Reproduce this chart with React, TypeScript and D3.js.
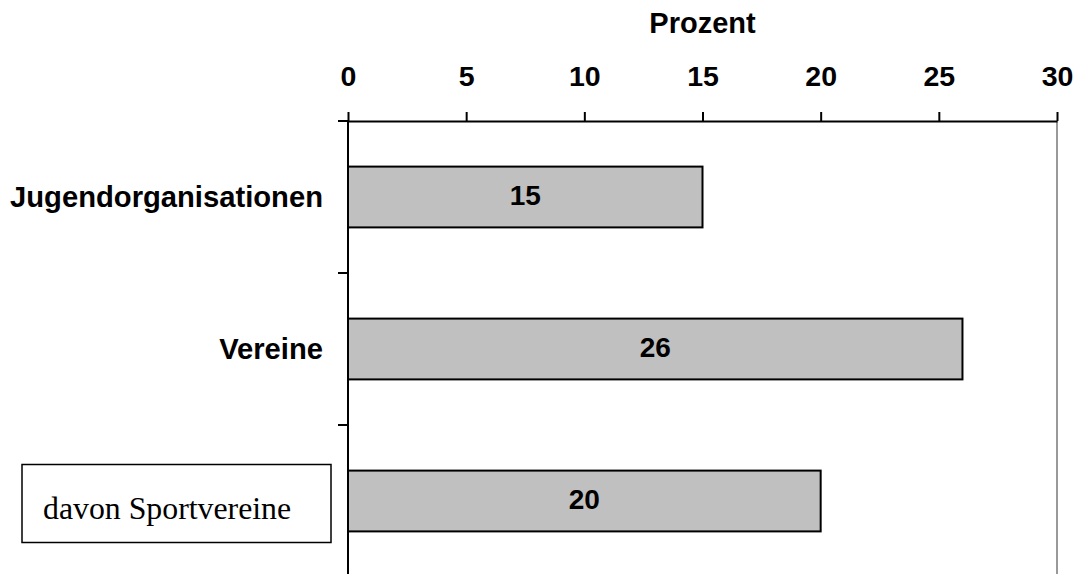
import React, { useRef, useEffect } from "react";
import * as d3 from "d3";

// chart data
const categories = ["Jugendorganisationen", "Vereine", "davon Sportvereine"];
const values = [15, 26, 20];
const xTicks = [0, 5, 10, 15, 20, 25, 30];
const axisTitle = "Prozent";

const App: React.FC = () => {
  const svgRef = useRef<SVGSVGElement>(null);

  useEffect(() => {
    const width = 1078;
    const height = 574;
    const left = 348;
    const right = 1057;
    const top = 121;
    const bottom = 577;
    const sans = "'Liberation Sans', Arial, sans-serif";

    const svg = d3
      .select(svgRef.current)
      .attr("width", width)
      .attr("height", height)
      .style("position", "absolute")
      .style("left", "0px")
      .style("top", "0px")
      .style("background", "#fff");

    svg.selectAll("*").remove();

    const x = d3.scaleLinear().domain([0, 30]).range([left, right]);
    const y = d3
      .scaleBand<string>()
      .domain(categories)
      .range([top, bottom])
      .paddingInner(0.6)
      .paddingOuter(0.3);

    // right border line (gray)
    svg
      .append("line")
      .attr("x1", right)
      .attr("x2", right)
      .attr("y1", top)
      .attr("y2", height + 10)
      .attr("stroke", "#999")
      .attr("stroke-width", 2);

    // bars
    const bars = svg.append("g");
    bars
      .selectAll("rect")
      .data(values)
      .join("rect")
      .attr("x", x(0))
      .attr("y", (_d, i) => y(categories[i])!)
      .attr("width", (d) => x(d) - x(0))
      .attr("height", y.bandwidth())
      .attr("fill", "#c0c0c0")
      .attr("stroke", "#000")
      .attr("stroke-width", 2);

    bars
      .selectAll("text")
      .data(values)
      .join("text")
      .attr("x", (d) => (x(0) + x(d)) / 2)
      .attr("y", (_d, i) => y(categories[i])! + y.bandwidth() / 2)
      .attr("dy", "0.3em")
      .attr("text-anchor", "middle")
      .attr("font-family", sans)
      .attr("font-weight", "bold")
      .attr("font-size", 28)
      .text((d) => d);

    // top axis
    const xAxis = svg
      .append("g")
      .attr("transform", `translate(0,${top})`)
      .call(d3.axisTop(x).tickValues(xTicks).tickSize(9).tickSizeOuter(0).tickPadding(26));
    xAxis.select(".domain").attr("stroke", "#000").attr("stroke-width", 2);
    xAxis.selectAll(".tick line").attr("stroke", "#000").attr("stroke-width", 2);
    xAxis
      .selectAll(".tick text")
      .attr("font-family", sans)
      .attr("font-weight", "bold")
      .attr("font-size", 28.5)
      .attr("fill", "#000");

    svg
      .append("text")
      .attr("x", (left + right) / 2)
      .attr("y", 33)
      .attr("text-anchor", "middle")
      .attr("font-family", sans)
      .attr("font-weight", "bold")
      .attr("font-size", 29)
      .text(axisTitle);

    // left axis with category boundary ticks
    const step = y.step();
    const bounds = d3.range(categories.length + 1).map((i) => top + i * step);
    const yAxis = svg.append("g");
    yAxis
      .append("line")
      .attr("x1", left)
      .attr("x2", left)
      .attr("y1", top - 1)
      .attr("y2", height + 10)
      .attr("stroke", "#000")
      .attr("stroke-width", 2);
    yAxis
      .selectAll("line.tk")
      .data(bounds)
      .join("line")
      .attr("class", "tk")
      .attr("x1", left - 10)
      .attr("x2", left)
      .attr("y1", (d) => d)
      .attr("y2", (d) => d)
      .attr("stroke", "#000")
      .attr("stroke-width", 2);

    // category labels (first two bold sans, last one in a serif text box)
    categories.slice(0, 2).forEach((c) => {
      svg
        .append("text")
        .attr("x", 323)
        .attr("y", y(c)! + y.bandwidth() / 2)
        .attr("dy", "0.35em")
        .attr("text-anchor", "end")
        .attr("font-family", sans)
        .attr("font-weight", "bold")
        .attr("font-size", 29.2)
        .text(c);
    });

    const last = categories[2];
    const cy = y(last)! + y.bandwidth() / 2;
    svg
      .append("rect")
      .attr("x", 22)
      .attr("y", 464.5)
      .attr("width", 309)
      .attr("height", 78)
      .attr("fill", "#fff")
      .attr("stroke", "#000")
      .attr("stroke-width", 1.5);
    svg
      .append("text")
      .attr("x", 43)
      .attr("y", cy + 18)
      .attr("font-family", "'Liberation Serif', 'Times New Roman', serif")
      .attr("font-size", 31.8)
      .text(last);
  }, []);

  return <svg ref={svgRef}></svg>;
};

export default App;
